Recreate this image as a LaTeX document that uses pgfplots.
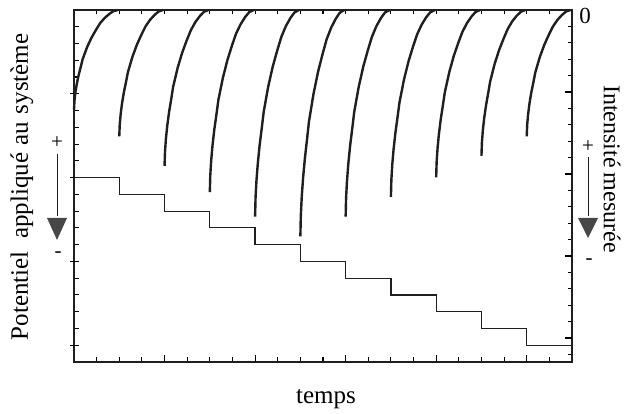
\documentclass[border=0pt]{standalone}
\usepackage{fontspec}
\setmainfont{Liberation Serif}
\usepackage{pgfplots}
\pgfplotsset{compat=1.18}
\definecolor{ink}{gray}{0.12}
\begin{document}
\begin{tikzpicture}
\useasboundingbox (0pt,0pt) rectangle (627pt,414pt);
% ---------- main axis: potential (steps) ----------
\begin{axis}[
  at={(74pt,52pt)}, anchor=south west, scale only axis,
  width=498pt, height=352pt,
  xmin=0, xmax=11, ymin=0, ymax=21,
  axis line style={line width=1.3pt, color=ink},
  tick style={color=black, line width=1.1pt},
  tick align=inside,
  major tick length=4.5pt,
  xtick={0.5,1.0,1.5,2.0,2.5,3.0,3.5,4.0,4.5,5.0,5.5,6.0,6.5,7.0,7.5,8.0,8.5,9.0,9.5,10.0,10.5},
  xticklabels={}, xtick pos=both,
  extra x ticks={2,4,6,8,10}, extra x tick labels={},
  extra x tick style={major tick length=7pt, xtick pos=left},
  ytick={1,2,3,4,5,6,7,8,9,10,11,12,13,14,15,16,17,18,19,20},
  yticklabels={}, ytick pos=left,
  extra y ticks={1,6,11,16}, extra y tick labels={},
  extra y tick style={tick align=center, major tick length=8pt},
]
\addplot[const plot, color=ink, line width=1.2pt] coordinates {
  (0,11) (1,10) (2,9) (3,8) (4,7) (5,6) (6,5) (7,4) (8,3) (9,2) (10,1) (11,1)};
\end{axis}
% ---------- right axis: intensity (transients) ----------
\begin{axis}[
  at={(74pt,52pt)}, anchor=south west, scale only axis,
  width=498pt, height=352pt,
  xmin=0, xmax=11, ymin=-21.46, ymax=0,
  axis x line=none, axis y line*=right,
  axis line style={line width=1.3pt, color=ink, -},
  tick style={color=black, line width=1.1pt},
  tick align=inside,
  major tick length=4.5pt,
  ytick={-21,-20,-19,-18,-17,-16,-15,-14,-13,-12,-11,-10,-9,-8,-7,-6,-5,-4,-3,-2,-1},
  yticklabels={},
  extra y ticks={-20,-15,-10,-5}, extra y tick labels={},
  extra y tick style={major tick length=7pt},
  clip=false,
]
\addplot[color=ink, line width=2.4pt] coordinates {(0,-6.1)(0.01,-5.55)(0.03,-5.05)(0.06,-4.53)(0.10,-4.00)(0.15,-3.46)(0.19,-3.01)(0.29,-2.26)(0.39,-1.67)(0.49,-1.19)(0.58,-0.79)(0.68,-0.48)(0.78,-0.24)(0.87,-0.07)(0.97,0)};
\addplot[color=ink, line width=2.4pt] coordinates {(1,-7.7)(1.01,-7.00)(1.03,-6.37)(1.06,-5.71)(1.10,-5.04)(1.15,-4.37)(1.19,-3.80)(1.29,-2.86)(1.39,-2.11)(1.49,-1.50)(1.58,-1.00)(1.68,-0.60)(1.78,-0.30)(1.87,-0.09)(1.97,0)};
\addplot[color=ink, line width=2.4pt] coordinates {(2,-9.5)(2.01,-8.64)(2.03,-7.86)(2.06,-7.05)(2.10,-6.22)(2.15,-5.39)(2.19,-4.68)(2.29,-3.52)(2.39,-2.60)(2.49,-1.85)(2.58,-1.24)(2.68,-0.74)(2.78,-0.37)(2.87,-0.11)(2.97,0)};
\addplot[color=ink, line width=2.4pt] coordinates {(3,-11.1)(3.01,-10.09)(3.03,-9.18)(3.06,-8.24)(3.10,-7.27)(3.15,-6.29)(3.19,-5.47)(3.29,-4.12)(3.39,-3.04)(3.49,-2.16)(3.58,-1.44)(3.68,-0.87)(3.78,-0.43)(3.87,-0.13)(3.97,0)};
\addplot[color=ink, line width=2.4pt] coordinates {(4,-12.6)(4.01,-11.45)(4.03,-10.42)(4.06,-9.35)(4.10,-8.25)(4.15,-7.14)(4.19,-6.21)(4.29,-4.67)(4.39,-3.45)(4.49,-2.46)(4.58,-1.64)(4.68,-0.98)(4.78,-0.49)(4.87,-0.15)(4.97,0)};
\addplot[color=ink, line width=2.4pt] coordinates {(5,-13.8)(5.01,-12.54)(5.03,-11.41)(5.06,-10.24)(5.10,-9.04)(5.15,-7.82)(5.19,-6.80)(5.29,-5.12)(5.39,-3.78)(5.49,-2.69)(5.58,-1.79)(5.68,-1.08)(5.78,-0.54)(5.87,-0.17)(5.97,0)};
\addplot[color=ink, line width=2.4pt] coordinates {(6,-12.6)(6.01,-11.45)(6.03,-10.42)(6.06,-9.35)(6.10,-8.25)(6.15,-7.14)(6.19,-6.21)(6.29,-4.67)(6.39,-3.45)(6.49,-2.46)(6.58,-1.64)(6.68,-0.98)(6.78,-0.49)(6.87,-0.15)(6.97,0)};
\addplot[color=ink, line width=2.4pt] coordinates {(7,-11.4)(7.01,-10.36)(7.03,-9.43)(7.06,-8.46)(7.10,-7.47)(7.15,-6.46)(7.19,-5.62)(7.29,-4.23)(7.39,-3.12)(7.49,-2.22)(7.58,-1.48)(7.68,-0.89)(7.78,-0.44)(7.87,-0.14)(7.97,0)};
\addplot[color=ink, line width=2.4pt] coordinates {(8,-10.2)(8.01,-9.27)(8.03,-8.44)(8.06,-7.57)(8.10,-6.68)(8.15,-5.78)(8.19,-5.03)(8.29,-3.78)(8.39,-2.79)(8.49,-1.99)(8.58,-1.33)(8.68,-0.80)(8.78,-0.40)(8.87,-0.12)(8.97,0)};
\addplot[color=ink, line width=2.4pt] coordinates {(9,-8.9)(9.01,-8.09)(9.03,-7.36)(9.06,-6.60)(9.10,-5.83)(9.15,-5.05)(9.19,-4.39)(9.29,-3.30)(9.39,-2.44)(9.49,-1.74)(9.58,-1.16)(9.68,-0.69)(9.78,-0.35)(9.87,-0.11)(9.97,0)};
\addplot[color=ink, line width=2.4pt] coordinates {(10,-7.7)(10.01,-7.00)(10.03,-6.37)(10.06,-5.71)(10.10,-5.04)(10.15,-4.37)(10.19,-3.80)(10.29,-2.86)(10.39,-2.11)(10.49,-1.50)(10.58,-1.00)(10.68,-0.60)(10.78,-0.30)(10.87,-0.09)(10.97,0)};
\end{axis}
% ---------- labels and arrows ----------
\node[font=\fontsize{25}{30}\selectfont, anchor=base] at (326pt,10pt) {temps};
\node[font=\fontsize{25}{30}\selectfont, rotate=90] at (22pt,227pt) {Potentiel\hspace{0.5em}appliqué\hspace{0.3em}au\hspace{0.3em}système};
\node[font=\fontsize{24}{29}\selectfont, rotate=-90] at (612pt,245pt) {Intensité\hspace{0.2em}mesurée};
\node[font=\fontsize{23}{28}\selectfont] at (585pt,398pt) {0};
% left arrow
\node[font=\fontsize{21}{24}\selectfont] at (57pt,271pt) {+};
\draw[ink, line width=0.9pt] (57pt,260pt) -- (57pt,198pt);
\fill[black!72] (47pt,196pt) -- (67pt,196pt) -- (57pt,174pt) -- cycle;
\node[font=\fontsize{21}{24}\selectfont] at (58pt,159pt) {-};
% right arrow
\node[font=\fontsize{21}{24}\selectfont] at (588pt,267pt) {+};
\draw[ink, line width=0.9pt] (588pt,257pt) -- (588pt,198pt);
\fill[black!72] (578pt,196pt) -- (598pt,196pt) -- (588pt,176pt) -- cycle;
\node[font=\fontsize{21}{24}\selectfont] at (589pt,152pt) {-};
\end{tikzpicture}
\end{document}
